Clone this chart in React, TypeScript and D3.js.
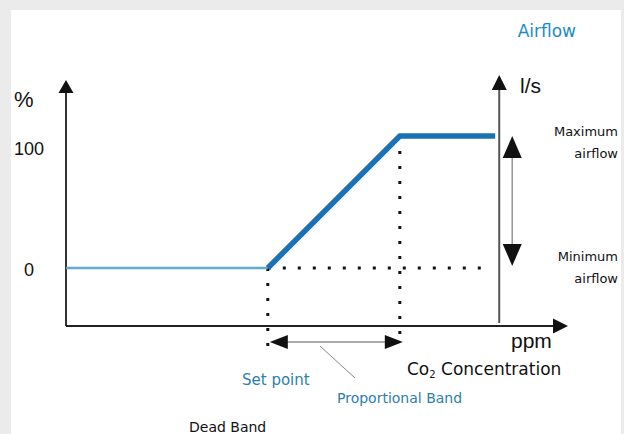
import React from "react";
import * as d3 from "d3";

const W = 624;
const H = 434;

// Control curve (conceptual ppm units vs % airflow)
const controlPpm = [0, 40.2, 66.5, 85.5];
const controlPct = [0, 0, 100, 100];
const setPointPpm = 40.2;
const bandEndPpm = 66.5;
const airflowAxisPpm = 86.3;
const yTickValues = [0, 100];
const yTickLabels = ["0", "100"];
const xDomain = [0, 100];
const yDomain = [-44, 100];

const SANS = "'Liberation Sans', Arial, sans-serif";
const HAND = "'DejaVu Sans', sans-serif";

export default function App() {
  const x = d3.scaleLinear().domain(xDomain).range([66, 568]);
  const y = d3.scaleLinear().domain(yDomain).range([326, 136]);

  const pts = controlPpm.map((p, i) => [x(p), y(controlPct[i])] as [number, number]);
  const line = d3.line();
  const deadPath = line(pts.slice(0, 2))!;
  const rampPath = line(pts.slice(1))!;

  const x0 = x(0);
  const yBase = y(yDomain[0]);
  const xs = x(setPointPpm);
  const xb = x(bandEndPpm);
  const xr = x(airflowAxisPpm);
  const y0 = y(0);
  const y100 = y(100);
  const xEnd = x(xDomain[1]);

  const tri = (a: number[], b: number[], c: number[]) =>
    `M${a[0]},${a[1]}L${b[0]},${b[1]}L${c[0]},${c[1]}Z`;

  const xArrowY = yBase + 16;
  const dArrowX = xr + 13;

  return (
    <svg
      width={W}
      height={H}
      style={{ position: "absolute", left: 0, top: 0, display: "block" }}
    >
      <rect x={0} y={0} width={W} height={H} fill="#ebebeb" />
      <rect x={11} y={10} width={610} height={H} fill="#ffffff" />

      {/* dotted guides */}
      <g stroke="#111" strokeWidth={3} strokeDasharray="3 12" fill="none">
        <line x1={xs} y1={y0} x2={xs} y2={yBase + 27} />
        <line x1={xb} y1={y100} x2={xb} y2={yBase + 16} />
        <line x1={xs} y1={y0} x2={xr - 10} y2={y0} />
      </g>

      {/* left axis */}
      <line x1={x0} y1={yBase} x2={x0} y2={90} stroke="#333" strokeWidth={2} />
      <path d={tri([x0, 80], [x0 - 7.5, 93], [x0 + 7.5, 93])} fill="#111" />
      {/* bottom axis */}
      <line x1={x0} y1={yBase} x2={xEnd - 10} y2={yBase} stroke="#222" strokeWidth={2} />
      <path d={tri([xEnd, yBase], [xEnd - 15, yBase - 7.5], [xEnd - 15, yBase + 7.5])} fill="#111" />
      {/* right airflow axis */}
      <line x1={xr} y1={yBase - 3} x2={xr} y2={85} stroke="#555" strokeWidth={2} />
      <path d={tri([xr, 75], [xr - 7.5, 90], [xr + 7.5, 90])} fill="#111" />

      {/* control curve */}
      <path d={deadPath} fill="none" stroke="#62a9d8" strokeWidth={2.5} />
      <path d={rampPath} fill="none" stroke="#1a72b4" strokeWidth={5.5} strokeLinejoin="miter" />

      {/* min/max double arrow */}
      <line x1={dArrowX} y1={y100 + 18} x2={dArrowX} y2={y0 - 18} stroke="#999" strokeWidth={1.5} />
      <path d={tri([dArrowX, y100], [dArrowX - 9.5, y100 + 22], [dArrowX + 9.5, y100 + 22])} fill="#111" />
      <path d={tri([dArrowX, y0 - 2], [dArrowX - 9.5, y0 - 24], [dArrowX + 9.5, y0 - 24])} fill="#111" />

      {/* proportional band arrow */}
      <line x1={xs + 15} y1={xArrowY} x2={xb - 15} y2={xArrowY} stroke="#aaa" strokeWidth={2} />
      <path d={tri([xs + 2, xArrowY], [xs + 20, xArrowY - 7], [xs + 20, xArrowY + 7])} fill="#111" />
      <path d={tri([xb + 3, xArrowY], [xb - 15, xArrowY - 7], [xb - 15, xArrowY + 7])} fill="#111" />
      {/* leader */}
      <line x1={320} y1={xArrowY + 4} x2={355} y2={378} stroke="#888" strokeWidth={1} />

      {/* y labels */}
      <text x={14} y={107} fontFamily={SANS} fontSize={22} fill="#111">%</text>
      {yTickValues.map((v, i) => (
        <text
          key={v}
          x={29}
          y={y(v) + (v === 0 ? 8 : 19)}
          textAnchor="middle"
          fontFamily={SANS}
          fontSize={18}
          fill="#111"
        >
          {yTickLabels[i]}
        </text>
      ))}
      <text x={520} y={93} fontFamily={SANS} fontSize={21} fill="#111">l/s</text>
      <text x={511} y={348} fontFamily={SANS} fontSize={21} fill="#111">ppm</text>

      <text x={576} y={37} textAnchor="end" fontFamily={HAND} fontSize={17} fill="#1a8cc4">Airflow</text>

      <g fontFamily={HAND} fontSize={13} fill="#111" textAnchor="end">
        <text x={618} y={136}>Maximum</text>
        <text x={618} y={158}>airflow</text>
        <text x={618} y={261}>Minimum</text>
        <text x={618} y={283}>airflow</text>
      </g>

      <text x={407} y={375} fontFamily={HAND} fontSize={17} fill="#111">
        Co<tspan fontSize={10} dy={3}>2</tspan>
        <tspan dy={-3}> Concentration</tspan>
      </text>

      <text x={242} y={385} fontFamily={HAND} fontSize={15} fill="#2c80aa">Set point</text>
      <text x={337} y={403} fontFamily={HAND} fontSize={14} fill="#2c80aa">Proportional Band</text>
      <text x={189} y={432} fontFamily={HAND} fontSize={14} fill="#111">Dead Band</text>
    </svg>
  );
}
